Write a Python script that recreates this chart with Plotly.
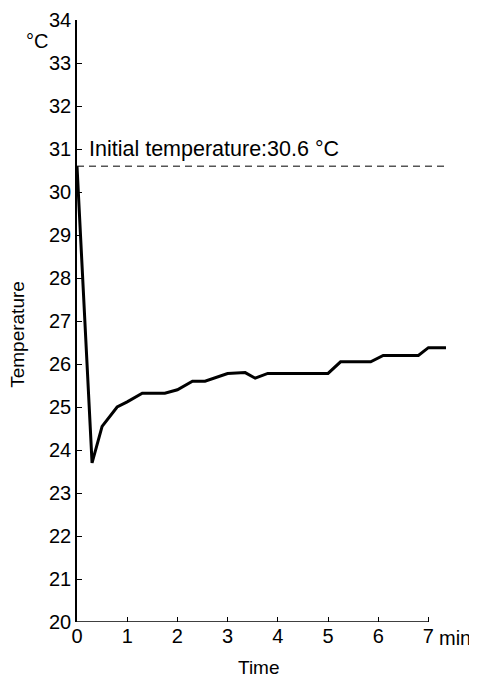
import plotly.graph_objects as go

# Data
time_min = [0, 0.3, 0.5, 0.8, 1.0, 1.3, 1.75, 2.0, 2.3, 2.55, 3.0, 3.35, 3.55, 3.8,
            5.0, 5.25, 5.85, 6.1, 6.8, 7.0, 7.35]
temperature_c = [30.6, 23.7, 24.55, 25.0, 25.12, 25.32, 25.32, 25.4, 25.6, 25.6, 25.78,
                 25.8, 25.67, 25.78, 25.78, 26.05, 26.05, 26.2, 26.2, 26.38, 26.38]
initial_temp = 30.6
initial_x = [0, 7.4]
x_ticks = [0, 1, 2, 3, 4, 5, 6, 7]
y_ticks = list(range(20, 35))

FONT = "Liberation Sans, Arial, sans-serif"

fig = go.Figure()
fig.add_trace(go.Scatter(
    x=initial_x, y=[initial_temp, initial_temp], mode="lines",
    line=dict(color="#555555", width=1.5, dash="7px,5px"), showlegend=False,
    hoverinfo="skip"))
fig.add_trace(go.Scatter(
    x=time_min, y=temperature_c, mode="lines",
    line=dict(color="black", width=3), showlegend=False))

# x axis line only up to 7 min
fig.add_shape(type="line", xref="x", yref="y", x0=0, x1=7, y0=20, y1=20,
              line=dict(color="black", width=1.5))

fig.update_xaxes(range=[0, 7.45], tickvals=x_ticks, ticktext=[str(v) for v in x_ticks],
                 ticks="inside", ticklen=5, tickwidth=1, tickcolor="black",
                 showline=False, showgrid=False, zeroline=False, automargin=False,
                 tickfont=dict(family=FONT, size=20, color="black"))
fig.update_yaxes(range=[20, 34], tickvals=y_ticks, ticktext=[str(v) for v in y_ticks],
                 ticks="inside", ticklen=5, tickwidth=1, tickcolor="black",
                 showline=True, linecolor="black", linewidth=1.5,
                 showgrid=False, zeroline=False, automargin=False,
                 tickfont=dict(family=FONT, size=20, color="black"))

annots = [
    dict(text=f"Initial temperature:{initial_temp} °C", x=0.2, y=31.0, xref="x", yref="y",
         xanchor="left", yanchor="middle", showarrow=False,
         font=dict(family=FONT, size=21.5, color="black")),
    dict(text="°C", x=0, y=34, xref="x", yref="y", xanchor="right", yanchor="middle",
         xshift=-27, yshift=-21, showarrow=False,
         font=dict(family=FONT, size=20, color="black")),
    dict(text="min", x=7, y=20, xref="x", yref="y", xanchor="left", yanchor="middle",
         xshift=9, yshift=-16, showarrow=False,
         font=dict(family=FONT, size=20, color="black")),
    dict(text="Time", x=3.62, y=0, xref="x", yref="paper", xanchor="center",
         yanchor="middle", yshift=-45, showarrow=False,
         font=dict(family=FONT, size=19, color="black")),
    dict(text="Temperature", x=-0.158, y=26.7, xref="paper", yref="y", xanchor="center",
         yanchor="middle", textangle=-90, showarrow=False,
         font=dict(family=FONT, size=19, color="black")),
]
# page body has an 8px margin, so the figure is shifted by 8px; compensate
fig.update_layout(template="none", width=469, height=672,
                  margin=dict(l=69, r=26, t=12, b=58),
                  plot_bgcolor="white", paper_bgcolor="white", annotations=annots)

fig.write_html("out.html")
